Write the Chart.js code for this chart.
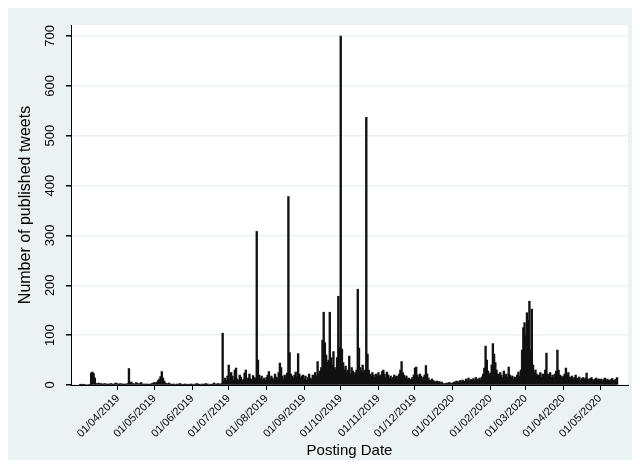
<!DOCTYPE html>
<html>
<head>
<meta charset="utf-8">
<script src="https://cdn.jsdelivr.net/npm/chart.js@4.4.1/dist/chart.umd.min.js"></script>
<style>
  html, body { margin: 0; padding: 0; background: #fff; }
  #wrap { width: 640px; height: 468px; }
</style>
</head>
<body>
<div id="wrap"><canvas id="c" width="640" height="468"></canvas></div>
<script>
// daily tweet counts, one array per month (value per day, starting on the 1st)
const mar19 = [1,1,0,1,0,0,0,0,1,24,26,23,14,3,2,4,2,3,1,2,3,2,1,2,1,3,2,1,2,4,3];
const apr19 = [2,1,3,2,1,2,1,2,3,33,4,6,3,2,2,5,3,2,3,5,2,1,2,1,2,1,1,2,3,4];
const may19 = [5,3,6,9,12,17,27,14,8,4,3,2,4,2,1,1,2,0,1,2,1,3,1,0,1,2,1,1,0,1,2];
const jun19 = [1,0,2,1,3,1,1,0,2,1,1,3,1,2,0,1,1,2,4,2,1,3,2,1,3,104,8,14,9,18];
const jul19 = [40,12,25,18,10,30,34,12,9,20,16,8,11,24,30,9,14,22,12,10,19,15,13,308,50,20,12,18,10,14,9];
const aug19 = [15,20,27,12,18,14,10,22,16,13,25,44,35,18,12,20,15,24,378,65,22,18,14,20,26,17,63,22,15,18,20];
const sep19 = [12,18,10,15,22,14,11,20,16,25,18,47,22,28,35,90,146,85,60,45,50,146,55,40,67,35,30,55,178,75];
const oct19 = [700,72,45,30,38,25,30,58,22,35,28,20,25,30,192,74,35,28,40,25,30,537,62,30,22,18,25,20,15,22,18];
const nov19 = [25,18,20,27,30,22,15,26,20,14,18,12,15,20,16,18,12,22,30,47,25,20,15,18,12,14,10,12,15,20];
const dec19 = [34,36,20,15,22,18,12,16,20,39,22,14,10,8,12,9,7,6,8,5,7,4,6,3,2,3,4,3,5,4,3];
const jan20 = [4,6,5,8,7,5,9,6,10,8,7,12,9,14,8,11,10,13,9,15,12,10,14,11,16,22,34,78,50,28,20];
const feb20 = [24,40,83,62,45,30,22,18,25,20,15,28,18,22,16,36,20,15,18,12,16,14,20,26,18,30,70,115,125];
const mar20 = [100,145,130,168,70,152,40,25,30,22,18,20,25,16,22,18,30,64,22,18,25,16,20,15,22,28,70,30,20,18,15];
const apr20 = [18,22,34,20,25,16,14,18,12,15,20,14,12,16,10,13,15,11,14,24,12,10,13,15,11,9,12,14,10,12];
const may20 = [10,12,8,11,14,9,12,10,8,11,13,9,10,12,15];

const months = [
  [2019, 2, mar19], [2019, 3, apr19], [2019, 4, may19], [2019, 5, jun19],
  [2019, 6, jul19], [2019, 7, aug19], [2019, 8, sep19], [2019, 9, oct19],
  [2019, 10, nov19], [2019, 11, dec19], [2020, 0, jan20], [2020, 1, feb20],
  [2020, 2, mar20], [2020, 3, apr20], [2020, 4, may20]
];

const tickLabels = ['01/04/2019','01/05/2019','01/06/2019','01/07/2019','01/08/2019','01/09/2019',
  '01/10/2019','01/11/2019','01/12/2019','01/01/2020','01/02/2020','01/03/2020','01/04/2020','01/05/2020'];

const DAY0 = Date.UTC(2019, 2, 1);
const dayIndex = (y, m, d) => (Date.UTC(y, m, d) - DAY0) / 864e5;

const points = [];
for (const [y, m, vals] of months) {
  vals.forEach((v, i) => points.push({ x: dayIndex(y, m, i + 1), y: v }));
}
const tickDays = tickLabels.map(s => {
  const [d, m, y] = s.split('/').map(Number);
  return dayIndex(y, m - 1, d);
});

const BG = '#eaf2f3';

// outer grey-blue frame and white plot region
const bgPlugin = {
  id: 'bg',
  beforeDraw(chart) {
    const { ctx, chartArea: a } = chart;
    ctx.save();
    ctx.fillStyle = '#fff';
    ctx.fillRect(0, 0, chart.width, chart.height);
    ctx.fillStyle = BG;
    ctx.fillRect(8, 8, chart.width - 16, chart.height - 16);
    ctx.fillStyle = '#fff';
    ctx.fillRect(a.left, a.top, a.right - a.left, a.bottom - a.top);
    ctx.restore();
  }
};

const ctx = document.getElementById('c').getContext('2d');
new Chart(ctx, {
  type: 'bar',
  data: {
    datasets: [{
      data: points,
      backgroundColor: '#111',
      borderWidth: 0,
      barThickness: 1.7
    }]
  },
  plugins: [bgPlugin],
  options: {
    responsive: false,
    animation: false,
    layout: { padding: { left: 8, right: 12, top: 25, bottom: 8 } },
    plugins: {
      legend: { display: false },
      tooltip: { enabled: false }
    },
    scales: {
      x: {
        type: 'linear',
        offset: false,
        min: -7.6,
        max: 450,
        afterBuildTicks: s => { s.ticks = tickDays.map(v => ({ value: v })); },
        afterFit: s => { s.height = 75; },
        grid: { offset: false, drawOnChartArea: false, drawTicks: true, tickLength: 5, tickColor: '#000' },
        border: { display: true, color: '#000', width: 1 },
        ticks: {
          autoSkip: false,
          minRotation: 45,
          maxRotation: 45,
          padding: 2,
          color: '#000',
          font: { family: 'Liberation Sans, Arial, sans-serif', size: 11 },
          callback: (v, i) => tickLabels[i]
        },
        title: {
          display: true,
          text: 'Posting Date',
          color: '#000',
          padding: { top: 0, bottom: 0 },
          font: { family: 'Liberation Sans, Arial, sans-serif', size: 15 }
        }
      },
      y: {
        min: 0,
        max: 722,
        afterFit: s => { s.width = 63; },
        grid: { color: BG, lineWidth: 1.5, drawTicks: true, tickLength: 5, tickColor: '#000' },
        border: { display: true, color: '#000', width: 1 },
        ticks: {
          stepSize: 100,
          includeBounds: false,
          minRotation: 90,
          maxRotation: 90,
          crossAlign: 'center',
          padding: 5,
          color: '#000',
          font: { family: 'Liberation Sans, Arial, sans-serif', size: 13 }
        },
        title: {
          display: true,
          text: 'Number of published tweets',
          color: '#000',
          padding: { top: 8, bottom: 0 },
          font: { family: 'Liberation Sans, Arial, sans-serif', size: 16 }
        }
      }
    }
  }
});
</script>
</body>
</html>
